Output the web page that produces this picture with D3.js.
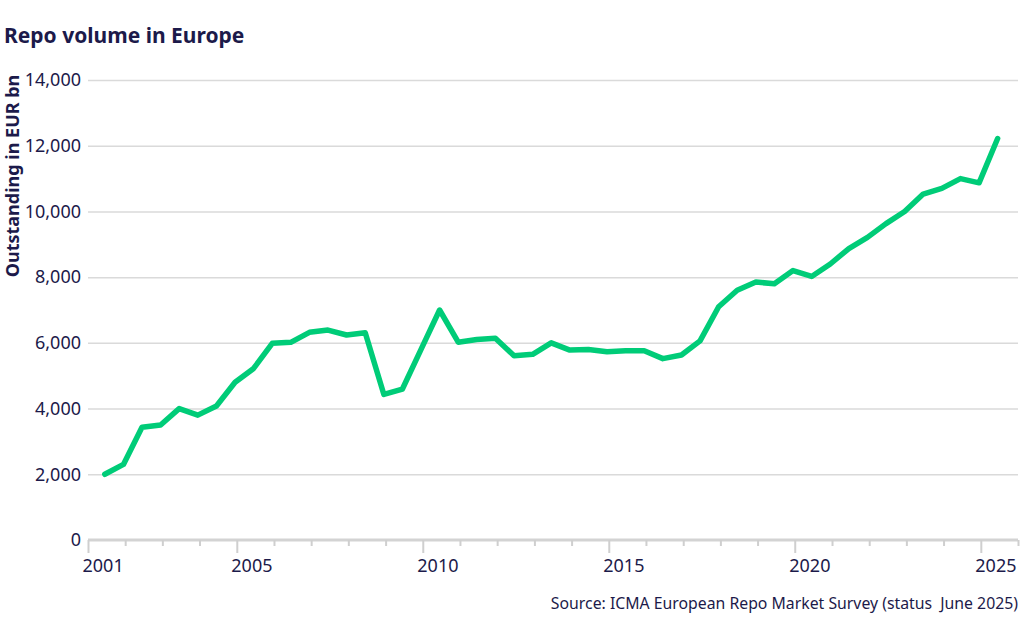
<!DOCTYPE html>
<html>
<head>
<meta charset="utf-8">
<script src="https://cdn.jsdelivr.net/npm/d3@7"></script>
<style>
  body { margin: 0; background: #fff; }
  svg { display: block; font-family: "Noto Sans", sans-serif; }
  .ylab text, .xlab text { fill: #1c1a4a; font-size: 18px; }
</style>
</head>
<body>
<script>
// survey dates (ICMA semi-annual surveys)
var surveys = [
  "Jun 2001","Dec 2001","Jun 2002","Dec 2002","Jun 2003","Dec 2003","Jun 2004","Dec 2004",
  "Jun 2005","Dec 2005","Jun 2006","Dec 2006","Jun 2007","Dec 2007","Jun 2008","Dec 2008",
  "Jun 2009","Dec 2009","Jun 2010","Dec 2010","Jun 2011","Dec 2011","Jun 2012","Dec 2012",
  "Jun 2013","Dec 2013","Jun 2014","Dec 2014","Jun 2015","Dec 2015","Jun 2016","Dec 2016",
  "Jun 2017","Dec 2017","Jun 2018","Dec 2018","Jun 2019","Dec 2019","Jun 2020","Dec 2020",
  "Jun 2021","Dec 2021","Jun 2022","Dec 2022","Jun 2023","Dec 2023","Jun 2024","Dec 2024",
  "Jun 2025"
];
// outstanding in EUR bn
var volume = [
  2000, 2300, 3430, 3500, 4000, 3800, 4080, 4800,
  5220, 5985, 6015, 6320, 6390, 6240, 6310, 4430,
  4595, 5800, 7000, 6020, 6100, 6140, 5610, 5650,
  6000, 5780, 5800, 5730, 5760, 5760, 5520, 5630,
  6060, 7100, 7600, 7850, 7800, 8200, 8020, 8400,
  8870, 9210, 9630, 10000, 10530, 10700, 11000, 10870,
  12220
];
var yTicks = [0, 2000, 4000, 6000, 8000, 10000, 12000, 14000];
var labelYears = [2001, 2005, 2010, 2015, 2020, 2025];

var W = 1024, H = 640;
var mLeft = 88, mRight = 1018, mTop = 80, mBottom = 540;
var navy = '#1c1a4a';

var parse = d3.timeParse('%b %Y');
var data = surveys.map(function (s, i) {
  // plot each survey in the middle of its month
  return { date: d3.timeDay.offset(parse(s), 14), value: volume[i] };
});

var svg = d3.select('body').append('svg').attr('width', W).attr('height', H);

var x = d3.scaleTime().domain([new Date(2001, 0, 1), new Date(2026, 0, 1)]).range([mLeft, mRight]);
var y = d3.scaleLinear().domain([0, 14000]).range([mBottom, mTop]);

// title
svg.append('text').attr('x', 4).attr('y', 43).text('Repo volume in Europe')
  .attr('fill', navy).attr('font-size', '21px').attr('font-weight', 'bold');

// y axis title
svg.append('text').attr('transform', 'translate(19,' + (mTop + 96) + ') rotate(-90)')
  .attr('text-anchor', 'middle').text('Outstanding in EUR bn')
  .attr('fill', navy).attr('font-size', '18px').attr('font-weight', 'bold');

// gridlines
var grid = svg.append('g').attr('transform', 'translate(' + mLeft + ',0)')
  .call(d3.axisLeft(y).tickValues(yTicks.slice(1)).tickSize(-(mRight - mLeft)).tickFormat(''));
grid.select('.domain').remove();
grid.selectAll('line').attr('stroke', '#dadada').attr('stroke-width', 1.5);

// y labels
var ylab = svg.append('g').attr('class', 'ylab').attr('transform', 'translate(' + mLeft + ',0)')
  .call(d3.axisLeft(y).tickValues(yTicks).tickSize(0).tickPadding(7).tickFormat(d3.format(',')));
ylab.attr('font-family', null).attr('font-size', null);
ylab.select('.domain').remove();

// x axis: one tick per year, longer ticks on labelled years
var years = d3.timeYear.range(new Date(2001, 0, 1), new Date(2026, 0, 2));
var halfYear = (x(new Date(2002, 0, 1)) - x(new Date(2001, 0, 1))) / 2;
var xAxis = svg.append('g').attr('class', 'xlab').attr('transform', 'translate(0,' + mBottom + ')')
  .call(d3.axisBottom(x).tickValues(years).tickSize(6).tickPadding(13)
    .tickFormat(function (d) {
      return labelYears.indexOf(d.getFullYear()) >= 0 ? d.getFullYear() : '';
    }));
xAxis.attr('font-family', null).attr('font-size', null);
xAxis.select('.domain').attr('stroke', '#d3d3d3').attr('stroke-width', 3).attr('d', 'M' + mLeft + ',0H' + mRight);
xAxis.selectAll('.tick line').attr('stroke', '#cfcfcf').attr('stroke-width', 2)
  .attr('y2', function (d) { return labelYears.indexOf(d.getFullYear()) >= 0 ? 13 : 6; });
xAxis.selectAll('.tick text').attr('x', halfYear - 4).attr('dy', '0.71em');

// line
var line = d3.line().x(function (d) { return x(d.date); }).y(function (d) { return y(d.value); });
svg.append('path').datum(data).attr('d', line).attr('fill', 'none')
  .attr('stroke', '#00cc78').attr('stroke-width', 5.5)
  .attr('stroke-linejoin', 'round').attr('stroke-linecap', 'round');

// source
svg.append('text').attr('x', mRight).attr('y', 609).attr('text-anchor', 'end')
  .text('Source: ICMA European Repo Market Survey (status\u00a0 June 2025)')
  .attr('fill', navy).attr('font-size', '15.8px');
</script>
</body>
</html>
